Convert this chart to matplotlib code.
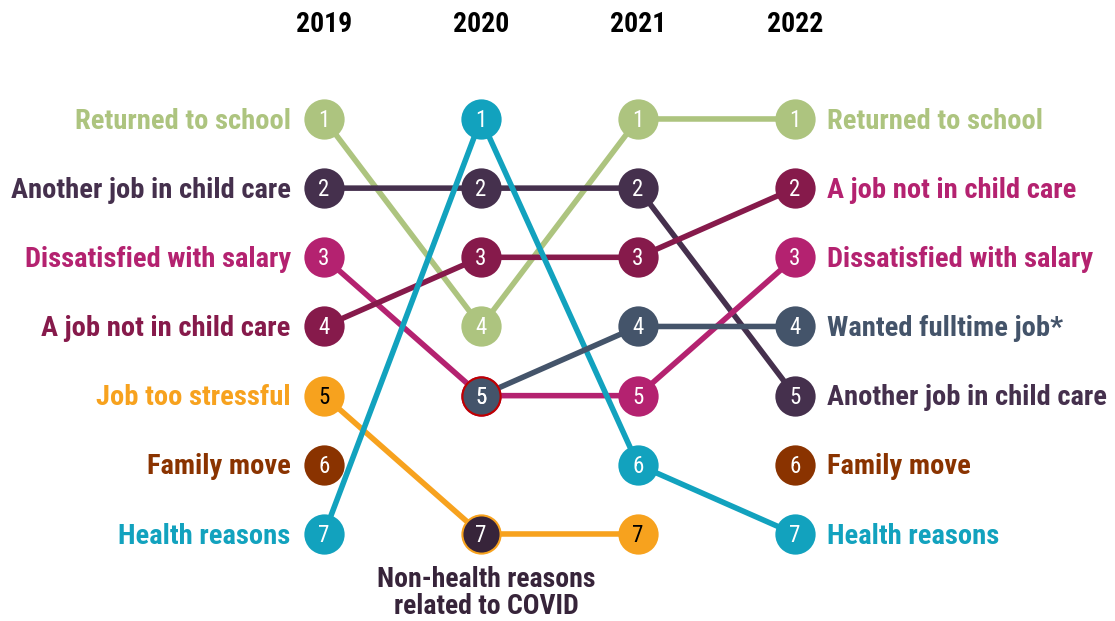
import matplotlib.pyplot as plt

# data: rank per year (None = not in the top list that year)
years = ["2019", "2020", "2021", "2022"]

reasons = [
    "Returned to school",
    "Another job in child care",
    "Dissatisfied with salary",
    "A job not in child care",
    "Job too stressful",
    "Family move",
    "Health reasons",
    "Wanted fulltime job*",
    "Non-health reasons\nrelated to COVID",
]

ranks_returned = [1, 4, 1, 1]
ranks_another = [2, 2, 2, 5]
ranks_salary = [3, 5, 5, 3]
ranks_notcc = [4, 3, 3, 2]
ranks_stress = [5, 7, 7, None]      # line runs through the 2020 COVID point
ranks_family = [6, None, None, 6]
ranks_health = [7, 1, 6, 7]
ranks_fulltime = [None, 5, 4, 4]
ranks_covid = [None, 7, None, None]

all_ranks = [ranks_returned, ranks_another, ranks_salary, ranks_notcc, ranks_stress,
             ranks_family, ranks_health, ranks_fulltime, ranks_covid]

colors = ["#ADC47F", "#45304D", "#B42270", "#861A4B", "#F7A21E",
          "#8A3300", "#12A2BE", "#44546A", "#37243A"]
label_colors_right = {"A job not in child care": "#B42270"}

# points hidden under another circle
hidden = {("Job too stressful", 1)}
edge_override = {("Wanted fulltime job*", 1): "#C00000",
                 ("Non-health reasons\nrelated to COVID", 1): "#F7A21E"}

plt.rcParams["font.family"] = ["Roboto Condensed", "Fira Sans Condensed", "DejaVu Sans"]

fig = plt.figure(figsize=(11.15, 6.21), dpi=100)
ax = fig.add_axes([0, 0, 1, 1])
ax.set_xlim(-2.064, 5.038)
ax.set_ylim(8.258, -0.720)
ax.axis("off")

for name, r, c in zip(reasons, all_ranks, colors):
    # family move has no ranks in between, so no connecting line
    if name == "Family move":
        continue
    xs = [i for i, v in enumerate(r) if v is not None]
    ys = [v for v in r if v is not None]
    ax.plot(xs, ys, color=c, lw=4, zorder=1, solid_capstyle="round")

for name, r, c in zip(reasons, all_ranks, colors):
    for i, v in enumerate(r):
        if v is None or (name, i) in hidden:
            continue
        ec = edge_override.get((name, i), c)
        ax.plot(i, v, "o", ms=27.5, mfc=c, mec=ec, mew=1.5, zorder=3)
        tc = "black" if c == "#F7A21E" else "white"
        ax.text(i, v + 0.02, str(v), color=tc, fontsize=16.5,
                ha="center", va="center", zorder=4)

    # labels on the left (2019) and right (2022)
    if r[0] is not None:
        ax.annotate(name, (0, r[0]), xytext=(-24, -1.5), textcoords="offset points",
                    ha="right", va="center", color=c, fontsize=20.5, fontweight="bold")
    if r[3] is not None:
        ax.annotate(name, (3, r[3]), xytext=(23, -1.5), textcoords="offset points",
                    ha="left", va="center", color=label_colors_right.get(name, c),
                    fontsize=20.5, fontweight="bold")

# covid label under the 2020 point
ax.annotate(reasons[8], (1, 7), xytext=(4, -23), textcoords="offset points",
            ha="center", va="top", color="#37243A", fontsize=20,
            fontweight="bold", linespacing=0.98)

for i, yr in enumerate(years):
    ax.text(i, -0.37, yr, ha="center", va="center", fontsize=20,
            fontweight="bold", color="black")

fig.savefig("out.png", dpi=100)
